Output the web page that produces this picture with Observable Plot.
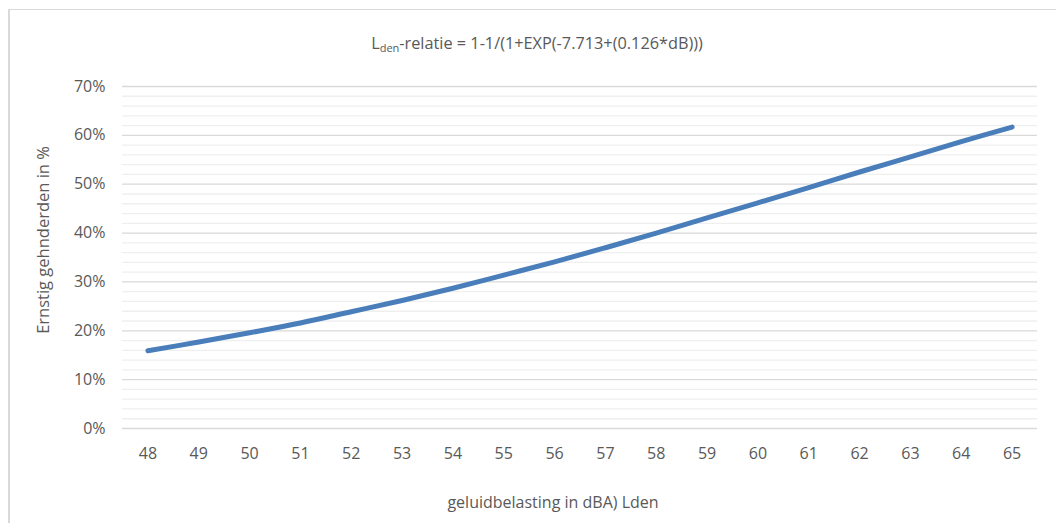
<!DOCTYPE html>
<html>
<head>
<meta charset="utf-8">
<script src="https://cdn.jsdelivr.net/npm/d3@7"></script>
<script src="https://cdn.jsdelivr.net/npm/@observablehq/plot@0.6"></script>
<style>
  html, body { margin: 0; padding: 0; background: #fff; }
  body { width: 1056px; height: 523px; overflow: hidden; position: relative; font-family: "Open Sans", sans-serif; color: #595959; }
  #frame { position: absolute; left: 8px; top: 9px; width: 1100px; height: 600px; border-top: 1.5px solid #d9d9d9; border-left: 2px solid #d9d9d9; box-sizing: border-box; }
  #chart { position: absolute; left: 0; top: 0; }
  .lbl { position: absolute; white-space: nowrap; color: #595959; }
  #title { left: 537px; top: 32px; transform: translateX(-50%); font-size: 16.3px; }
  #title sub { font-size: 11px; vertical-align: -3px; line-height: 0; }
  #ytitle { left: 42px; top: 240px; transform: translate(-50%, -50%) rotate(-90deg); font-size: 16.5px; }
  #xtitle { left: 553px; top: 491px; transform: translateX(-50%); font-size: 16px; }
</style>
</head>
<body>
<div id="frame"></div>
<div id="chart"></div>
<div class="lbl" id="title">L<sub>den</sub>-relatie = 1-1/(1+EXP(-7.713+(0.126*dB)))</div>
<div class="lbl" id="ytitle">Ernstig gehnderden in %</div>
<div class="lbl" id="xtitle">geluidbelasting in dBA) Lden</div>
<script>
const dB = [48, 49, 50, 51, 52, 53, 54, 55, 56, 57, 58, 59, 60, 61, 62, 63, 64, 65];
const annoyed = [0.159, 0.177, 0.196, 0.216, 0.239, 0.262, 0.287, 0.314, 0.341, 0.370, 0.400, 0.431, 0.462, 0.493, 0.525, 0.556, 0.587, 0.617];
const majorTicks = [0, 0.1, 0.2, 0.3, 0.4, 0.5, 0.6, 0.7];
const minorTicks = [0.02, 0.04, 0.06, 0.08, 0.12, 0.14, 0.16, 0.18, 0.22, 0.24, 0.26, 0.28,
  0.32, 0.34, 0.36, 0.38, 0.42, 0.44, 0.46, 0.48, 0.52, 0.54, 0.56, 0.58, 0.62, 0.64, 0.66, 0.68];

const data = dB.map((d, i) => ({x: d, y: annoyed[i]}));

const plot = Plot.plot({
  width: 1056,
  height: 523,
  marginLeft: 122,
  marginRight: 19,
  marginTop: 86,
  marginBottom: 95,
  style: {fontFamily: "Open Sans, sans-serif", fontSize: "16px", color: "#595959", background: "transparent", overflow: "visible"},
  x: {type: "point", domain: dB, padding: 0.5, round: false, label: null, tickSize: 0, tickPadding: 19},
  y: {domain: [0, 0.7], ticks: majorTicks, tickFormat: d3.format(".0%"), label: null, tickSize: 0, tickPadding: 17},
  marks: [
    Plot.ruleY(minorTicks, {stroke: "#efefef", strokeWidth: 1.3}),
    Plot.ruleY(majorTicks, {stroke: "#d9d9d9", strokeWidth: 1.3}),
    Plot.line(data, {x: "x", y: "y", stroke: "#4a7ebb", strokeWidth: 5, strokeLinecap: "round", strokeLinejoin: "round", curve: "catmull-rom"})
  ]
});
document.getElementById("chart").appendChild(plot);
</script>
</body>
</html>
